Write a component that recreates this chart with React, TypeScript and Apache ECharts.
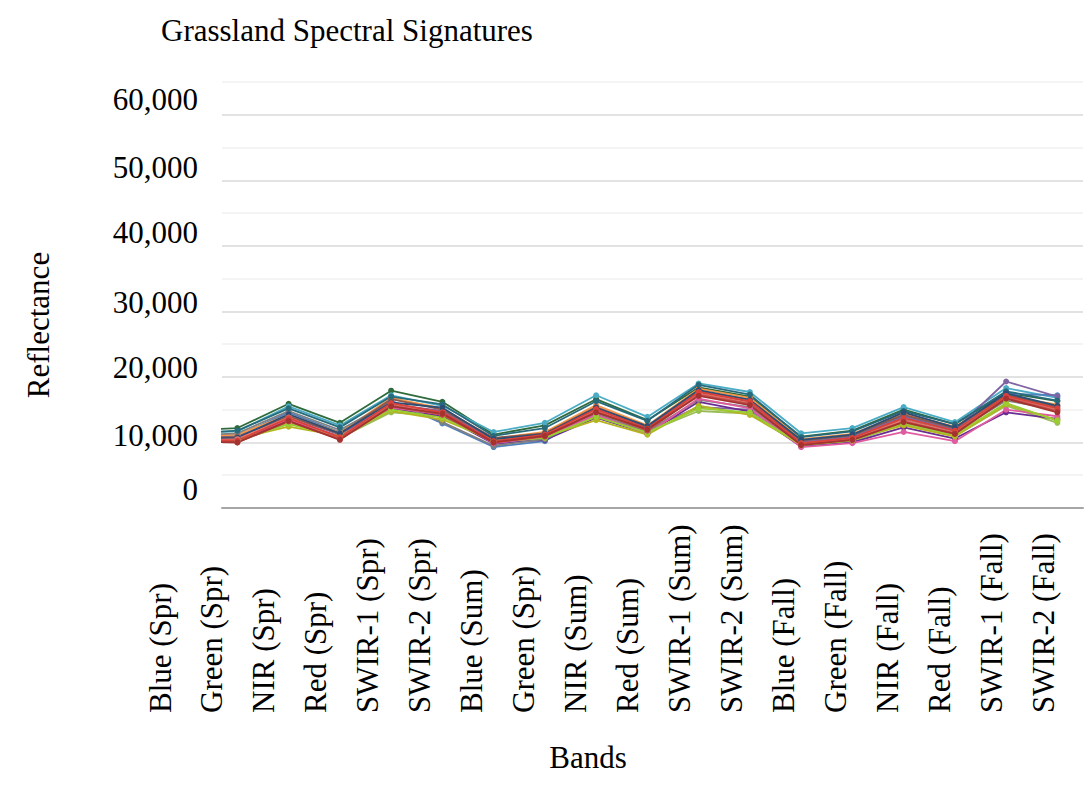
import React, { useEffect, useRef } from "react";
import * as echarts from "echarts";

const categories = [
  "Blue (Spr)", "Green (Spr)", "NIR (Spr)", "Red (Spr)", "SWIR-1 (Spr)", "SWIR-2 (Spr)",
  "Blue (Sum)", "Green (Spr)", "NIR (Sum)", "Red (Sum)", "SWIR-1 (Sum)", "SWIR-2 (Sum)",
  "Blue (Fall)", "Green (Fall)", "NIR (Fall)", "Red (Fall)", "SWIR-1 (Fall)", "SWIR-2 (Fall)",
];

const s01 = [11800, 12200, 15900, 13000, 17900, 16200, 11200, 12600, 16600, 13400, 18400, 17000, 10900, 11800, 15000, 12800, 17600, 16300];
const s02 = [11500, 11700, 15500, 12600, 17200, 15600, 11600, 13000, 17200, 13900, 19000, 17700, 11400, 12200, 15400, 13100, 18300, 16800];
const s03 = [10600, 11000, 14600, 11600, 16400, 12900, 9300, 10200, 15000, 12300, 17800, 16600, 10200, 11000, 14100, 12000, 17400, 17200];
const s04 = [10300, 10100, 13000, 10700, 14600, 14000, 10100, 10600, 14000, 11600, 14800, 14400, 9600, 10200, 12800, 11000, 15600, 13000];
const s05 = [10800, 10900, 13900, 11200, 15800, 14800, 10400, 11000, 14500, 12000, 15400, 15000, 10000, 10800, 13900, 11900, 19300, 17000];
const s06 = [10000, 10200, 13400, 10900, 15200, 14000, 9800, 10400, 13800, 11400, 16200, 14700, 9400, 10000, 12300, 10600, 14600, 13600];
const s07 = [10900, 11200, 14200, 11500, 16800, 15200, 10600, 11600, 15700, 12600, 18200, 16800, 10500, 11300, 14400, 12400, 17000, 15800];
const s08 = [11000, 11400, 14800, 11900, 16200, 13100, 9500, 10500, 14300, 11700, 16500, 15400, 9800, 10600, 13500, 11600, 16400, 15000];
const s09 = [10100, 10400, 13500, 10600, 15300, 14300, 9900, 10800, 14200, 11300, 16700, 15200, 9300, 9900, 11600, 10200, 15000, 14000];
const s10 = [10500, 10600, 12400, 11000, 14800, 13500, 10300, 10900, 13400, 11200, 15600, 14200, 9700, 10500, 12600, 10900, 15800, 13400];
const s11 = [10700, 10800, 14000, 11300, 16600, 15000, 10700, 11400, 15400, 12400, 17900, 16100, 10300, 11100, 14200, 12200, 17300, 15400];
const s12 = [11300, 11800, 15200, 12300, 17000, 15800, 11000, 12200, 16300, 13300, 18800, 17300, 10800, 11700, 14800, 12800, 17800, 16400];
const s13 = [10400, 10300, 12800, 10900, 15000, 13800, 10200, 10700, 13900, 11500, 15200, 14600, 9600, 10300, 13000, 11200, 16000, 13300];
const s14 = [10500, 10700, 14300, 11400, 16100, 15300, 10500, 11300, 15300, 12500, 18000, 16500, 10400, 11200, 14600, 12300, 17500, 15600];
const s15 = [10300, 10500, 13800, 10700, 15900, 14500, 10100, 11000, 14900, 11900, 17500, 16000, 9800, 10600, 13400, 11500, 16900, 15000];
const s16 = [10200, 10000, 13200, 10500, 15600, 14200, 10000, 10900, 14700, 11800, 17300, 15900, 9700, 10400, 13200, 11400, 16800, 14800];
const s17 = [10400, 10300, 13700, 10800, 16000, 14600, 10200, 11200, 15100, 12100, 17700, 16300, 9900, 10700, 13700, 11800, 17100, 15200];
const s18 = [10200, 10000, 13300, 10400, 15500, 14400, 10000, 11000, 14600, 12000, 17100, 15700, 9600, 10400, 13100, 11300, 16700, 14600];

const seriesValues = [s01, s02, s03, s04, s05, s06, s07, s08, s09, s10, s11, s12, s13, s14, s15, s16, s17, s18];
const seriesColors = [
  "#2F6B3C", "#4BACC6", "#4F81BD", "#9BBB59", "#8064A2", "#6A2C91",
  "#F79646", "#7F7F7F", "#E05CA0", "#B5B51F", "#8C564B", "#276A7C",
  "#9ACD32", "#2C4D75", "#E8776F", "#C0504D", "#D9413B", "#A5322F",
];

const yTickLabels = ["0", "10,000", "20,000", "30,000", "40,000", "50,000", "60,000"];

const FONT = "'Liberation Serif', 'Times New Roman', serif";

export default function App() {
  const ref = useRef<HTMLDivElement>(null);

  useEffect(() => {
    if (!ref.current) return;
    const chart = echarts.init(ref.current, null, { renderer: "svg" });

    const shiftFor: Record<number, string> = { 0: "s19", 10000: "s7", 20000: "s9", 30000: "s9", 40000: "s13", 50000: "s13", 60000: "s15" };
    const rich: Record<string, any> = {};
    [7, 9, 13, 15, 19].forEach((s) => {
      rich["s" + s] = { fontSize: 31, fontFamily: FONT, color: "#000", padding: [0, 0, 2 * s, 0] };
    });

    const series = seriesValues.map((vals, i) => ({
      type: "line",
      name: "Site " + (i + 1),
      xAxisIndex: 0,
      yAxisIndex: 0,
      data: vals.map((v, k) => [k, v]),
      symbol: "circle",
      symbolSize: 6,
      lineStyle: { width: 1.8, color: seriesColors[i] },
      itemStyle: { color: seriesColors[i] },
      clip: true,
    }));

    chart.setOption({
      animation: false,
      backgroundColor: "#fff",
      title: {
        text: "Grassland Spectral Signatures",
        left: 156,
        top: 10,
        textStyle: { fontFamily: FONT, fontSize: 31, fontWeight: "normal", color: "#000" },
      },
      grid: [
        { left: 222, right: 2, top: 82, height: 426, containLabel: false },
        { left: 160, width: 883, top: 713, height: 1, containLabel: false },
      ],
      xAxis: [
        {
          gridIndex: 0,
          type: "value",
          min: 0.7,
          max: 17.5,
          axisLabel: { show: false },
          axisTick: { show: false },
          splitLine: { show: false },
          axisLine: { show: true, lineStyle: { color: "#a6a6a6", width: 2 } },
        },
        {
          gridIndex: 1,
          type: "category",
          position: "top",
          boundaryGap: false,
          data: categories,
          axisLine: { show: false },
          axisTick: { show: false },
          axisLabel: {
            interval: 0,
            rotate: 90,
            margin: 0,
            fontSize: 31,
            fontFamily: FONT,
            color: "#000",
          },
        },
      ],
      yAxis: [
        {
          gridIndex: 0,
          type: "value",
          min: 0,
          max: 65000,
          interval: 5000,
          axisLine: { show: false },
          axisTick: { show: false },
          splitLine: { show: true, lineStyle: { color: ["#d9d9d9", "#f0f0f0"], width: 1.5 } },
          axisLabel: {
            margin: 24,
            fontSize: 31,
            fontFamily: FONT,
            color: "#000",
            rich,
            formatter: (v: number) => {
              if (v % 10000 !== 0) return "";
              const lbl = yTickLabels[v / 10000];
              if (!lbl) return "";
              return "{" + shiftFor[v] + "|" + lbl + "}";
            },
          },
        },
        { gridIndex: 1, type: "value", show: false },
      ],
      graphic: [
        {
          type: "text",
          x: 38,
          y: 325,
          rotation: Math.PI / 2,
          style: { text: "Reflectance", fontSize: 31, fontFamily: FONT, fill: "#000", align: "center", verticalAlign: "middle" },
        },
        {
          type: "text",
          x: 588,
          y: 757,
          style: { text: "Bands", fontSize: 31, fontFamily: FONT, fill: "#000", align: "center", verticalAlign: "middle" },
        },
      ],
      series,
    });

    return () => chart.dispose();
  }, []);

  return <div ref={ref} style={{ position: "fixed", left: 0, top: 0, width: 1085, height: 796 }} />;
}
